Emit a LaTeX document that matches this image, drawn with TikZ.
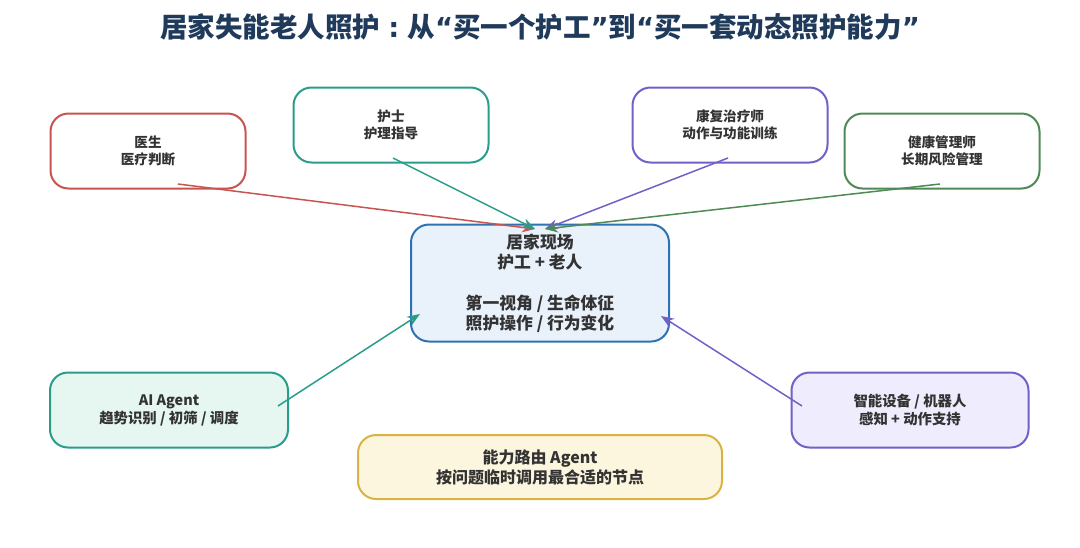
\documentclass[tikz,border=0pt]{standalone}
\usepackage{fontspec}
\setmainfont{Noto Sans CJK SC}
\newfontfamily\latinq{DejaVu Sans}
\usepackage{tikz}
\usetikzlibrary{positioning, arrows.meta}
\usepackage{xcolor}
\definecolor{titleblue}{HTML}{1F3A5A}
\definecolor{txt}{HTML}{333333}
\definecolor{docred}{HTML}{C85450}
\definecolor{nurseteal}{HTML}{2A9D8A}
\definecolor{rehabpurple}{HTML}{7060C8}
\definecolor{healthgreen}{HTML}{4E8A55}
\definecolor{siteblue}{HTML}{2F72B2}
\definecolor{sitefill}{HTML}{E9F1FB}
\definecolor{aifill}{HTML}{E6F6F1}
\definecolor{devfill}{HTML}{EFECFD}
\definecolor{routegold}{HTML}{D9B445}
\definecolor{routefill}{HTML}{FDF6DE}
\newcommand{\openq}{{\latinq\bfseries “}}
\newcommand{\closeq}{{\latinq\bfseries ”}}
\newcommand{\midcolon}{\hspace{0.3em}{\latinq\bfseries :}\hspace{0.3em}}

\begin{document}
\begin{tikzpicture}[x=1pt,y=-1pt]
\tikzset{
>={Stealth[length=13pt,width=10pt]}, % arrow heads
role/.style={draw, line width=2pt, rounded corners=18pt, fill=white, align=center,
  minimum width=195pt, minimum height=75pt, text=txt, font=\bfseries\fontsize{13.6}{17.5}\selectfont}, % the outer boxes
link/.style={->, line width=1.5pt}, % the connectors
}
\useasboundingbox (0,0) rectangle (1080,547);

\node[text=titleblue, font=\bfseries\fontsize{27.5}{32}\selectfont] (title) at (540,27)
  {居家失能老人照护\midcolon 从\openq 买一个护工\closeq 到\openq 买一套动态照护能力\closeq};

\node[role, draw=docred] (doc) at (148,151) {医生\\医疗判断};
\node[role, draw=nurseteal] (nurse) at (391,125) {护士\\护理指导};
\node[role, draw=rehabpurple] (rehab) at (730,125) {康复治疗师\\动作与功能训练};
\node[role, draw=healthgreen] (health) at (942,151) {健康管理师\\长期风险管理};

\node[role, draw=siteblue, fill=sitefill, minimum width=258pt, minimum height=117pt,
  font=\bfseries\fontsize{16.8}{20.5}\selectfont] (site) at (540,283)
  {居家现场\\护工 + 老人\\[20pt]第一视角 / 生命体征\\照护操作 / 行为变化};

\node[role, draw=nurseteal, fill=aifill, minimum width=238pt,
  font=\bfseries\fontsize{14.4}{18}\selectfont] (ai) at (169,410)
  {AI Agent\\趋势识别 / 初筛 / 调度};
\node[role, draw=rehabpurple, fill=devfill, minimum width=237pt,
  font=\bfseries\fontsize{14.4}{18}\selectfont] (dev) at (910,410)
  {智能设备 / 机器人\\感知 + 动作支持};
\node[role, draw=routegold, fill=routefill, minimum width=364pt, minimum height=64pt,
  font=\bfseries\fontsize{16}{20}\selectfont] (route) at (540,467)
  {能力路由 Agent\\按问题临时调用最合适的节点};

% where the connectors leave and meet the boxes
\coordinate (docout) at (178,184);
\coordinate (nurseout) at (393,158);
\coordinate (rehabout) at (728,158);
\coordinate (healthout) at (940,184);
\coordinate (aiout) at (278,406);
\coordinate (devout) at (802,406);
\coordinate (sitein1) at (535,229);
\coordinate (sitein2) at (545,229);
\coordinate (sitein3) at (420,314);
\coordinate (sitein4) at (661,316);

\draw[link, docred] (docout) -- (sitein1);
\draw[link, nurseteal] (nurseout) -- (sitein1);
\draw[link, rehabpurple] (rehabout) -- (sitein2);
\draw[link, healthgreen] (healthout) -- (sitein2);
\draw[link, nurseteal] (aiout) -- (sitein3);
\draw[link, rehabpurple] (devout) -- (sitein4);
\end{tikzpicture}
\end{document}
